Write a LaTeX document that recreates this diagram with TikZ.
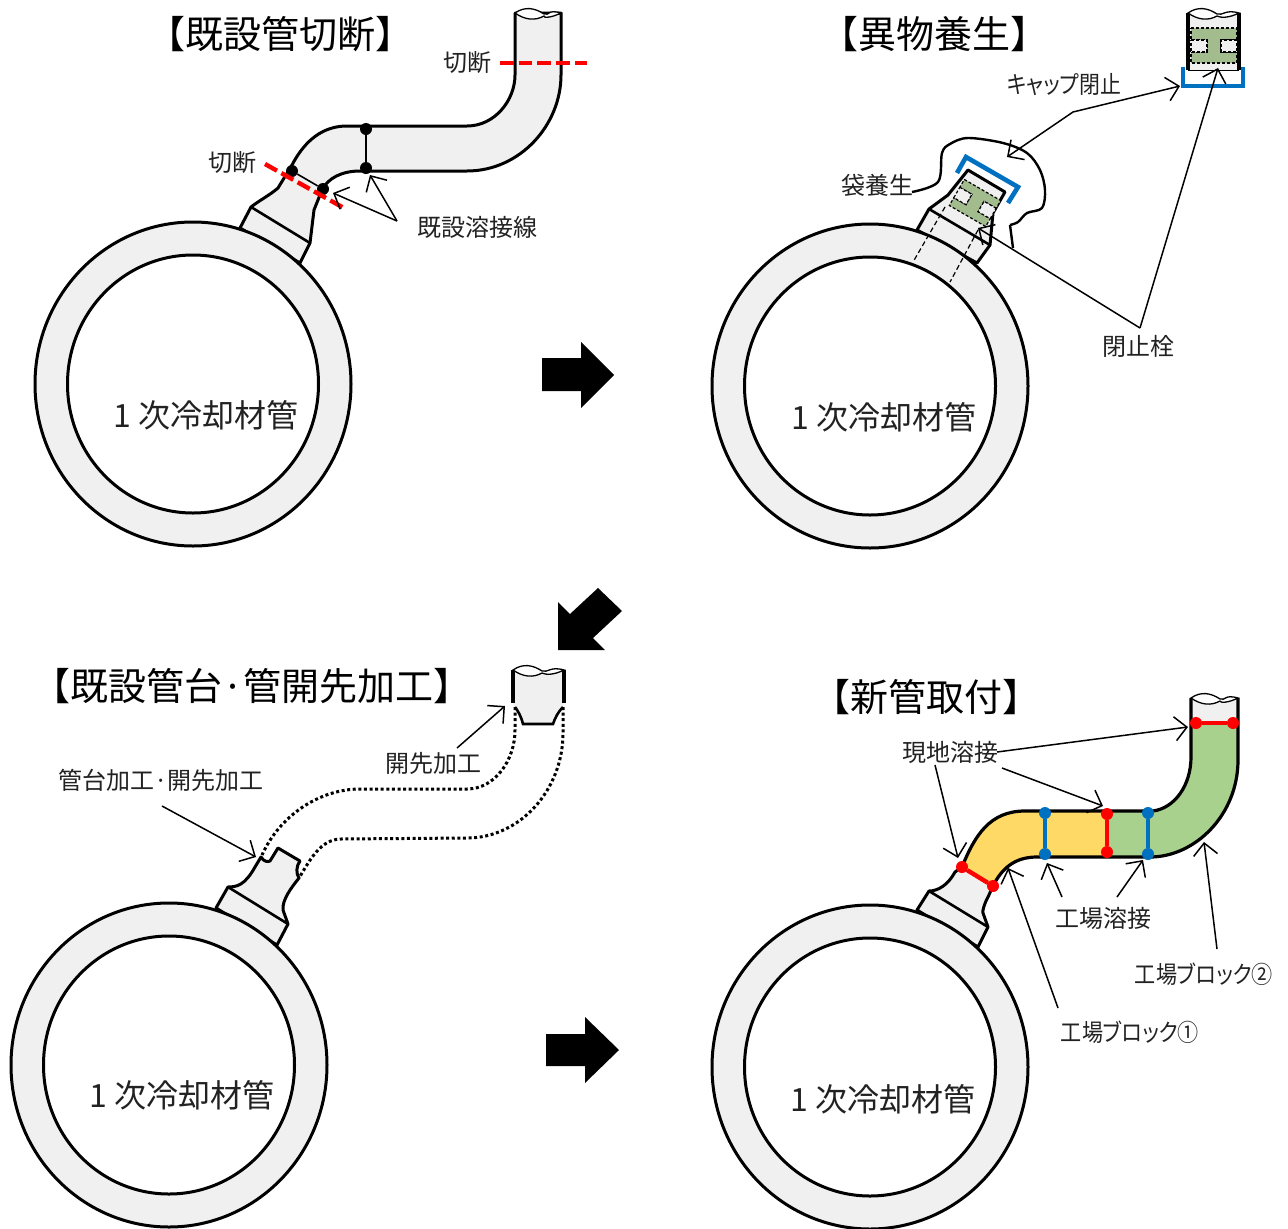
\documentclass[tikz,border=0pt]{standalone}
\usepackage{fontspec}
\setmainfont{Noto Sans CJK JP}
\newfontfamily\propfont[RawFeature={+palt}]{Noto Sans CJK JP}
\usetikzlibrary{arrows.meta}
\definecolor{pipegrey}{HTML}{F0F0F0}
\definecolor{capblue}{HTML}{0070C0}
\definecolor{plugo}{HTML}{FFD966}
\definecolor{plugg}{HTML}{A9D18E}
\definecolor{plugd}{HTML}{A3BC8E}
\definecolor{inkt}{HTML}{222222}
\tikzset{
  titletext/.style={font=\fontsize{38}{40}\selectfont,text=black,inner sep=0pt},
  ringtext/.style={font=\fontsize{32}{34}\selectfont,text=inkt,inner sep=0pt},
  labeltext/.style={font=\fontsize{24}{26}\selectfont,text=inkt,inner sep=0pt},
  pipeedge/.style={draw=black,line width=3pt,fill=pipegrey,line join=round},
  thinedge/.style={draw=black,line width=2.6pt},
  leader/.style={draw=black,line width=1.5pt,-{Straight Barb[length=12pt,width=24pt,line width=1.5pt]}},
  bothleader/.style={draw=black,line width=1.5pt,{Straight Barb[length=12pt,width=24pt,line width=1.5pt]}-{Straight Barb[length=12pt,width=24pt,line width=1.5pt]}},
  cutline/.style={draw=red,line width=4.4pt,dash pattern=on 13.7pt off 5pt},
  dotline/.style={draw=black,line width=3pt,dash pattern=on 3pt off 2.6pt},
  bigarrow/.style={fill=black,draw=none},
  capline/.style={draw=capblue,line width=4.6pt},
  plugshape/.style={draw=black,line width=1.2pt,dash pattern=on 3pt off 2pt,fill=plugd},
  notchshape/.style={draw=black,line width=1.2pt,dash pattern=on 3pt off 2pt,fill=pipegrey},
}
\newcommand{\ringat}[2]{%
  \path[pipeedge,even odd rule] (#1,#2) ellipse (158pt and 162pt) (#1,#2) ellipse (125.5pt and 129pt);}
\newcommand{\wavetop}[3]{% left x, right x, y
  \draw[draw=black,line width=1.3pt,fill=white] (#1,#3)
    .. controls (#1+10,#3-7) and (#1+20,#3-5) .. (#1+29,#3+1)
    .. controls (#1+35,#3+3) and (#2-14,#3-4) .. (#2,#3)
    .. controls (#2-10,#3+5) and (#2-18,#3+5) .. (#1+29,#3+3)
    .. controls (#1+20,#3+8) and (#1+10,#3+7) .. (#1,#3) -- cycle;}
\begin{document}
\begin{tikzpicture}[x=1pt,y=-1pt]
\useasboundingbox[fill=white] (0,0) rectangle (1288,1229);

%%% PANEL 1
\path[pipeedge] (240,228) -- (251,207)
  .. controls (260,200) and (270,195) .. (278,188)
  -- (292,165) .. controls (302,146) and (318,127) .. (345,126)
  -- (467,126) .. controls (495,126) and (515,100) .. (515,75)
  -- (515,13) -- (561,13) -- (561,75)
  .. controls (561,125) and (520,171) .. (467,171)
  -- (360,171) .. controls (342,171) and (328,178) .. (322,190)
  -- (314,210) -- (310,243) -- (300,263) -- cycle;
\draw[thinedge] (251,207) -- (310,243);
\wavetop{515}{561}{13}
\ringat{193}{384}
\node[ringtext] (r1) at (206,415) {1 次冷却材管};
\node[titletext] (t1) at (280,34) {【既設管切断】};
\node[circle,fill=black,inner sep=0pt,minimum size=12pt] (w1a) at (366,129) {};
\node[circle,fill=black,inner sep=0pt,minimum size=12pt] (w1b) at (366,168) {};
\node[circle,fill=black,inner sep=0pt,minimum size=12pt] (w1c) at (292,171) {};
\node[circle,fill=black,inner sep=0pt,minimum size=12pt] (w1d) at (323,189) {};
\draw[black,line width=1.6pt] (w1a) -- (w1b);
\draw[black,line width=1.6pt] (w1c) -- (w1d);
\coordinate (c1a) at (500,63); \coordinate (c1b) at (587,63);
\coordinate (c1c) at (265,164); \coordinate (c1d) at (343,207.5);
\draw[cutline] (c1a) -- (c1b);
\draw[cutline] (c1c) -- (c1d);
\node[labeltext] (l1a) at (467,63) {切断};
\node[labeltext] (l1b) at (232,163) {切断};
\node[labeltext] (l1c) at (477,227) {既設溶接線};
\coordinate (j1) at (397,221);
\draw[leader] (j1) -- (333,193);
\draw[leader] (j1) -- (370,175);

%%% PANEL 2
\path[pipeedge] (917,230) -- (929,209) -- (948,195) -- (968,170) -- (1005,192)
  -- (993,213) -- (990,245) -- (977,263) -- cycle;
\draw[thinedge] (929,209) -- (990,245);
\begin{scope}[shift={(975,203)},rotate=-30]
  \path[plugshape] (-21,-15) -- (21,-15) -- (21,-6) -- (7,-6) -- (7,6) -- (21,6) -- (21,15)
    -- (-21,15) -- (-21,6) -- (-7,6) -- (-7,-6) -- (-21,-6) -- cycle;
  \path[notchshape] (-21,-6) -- (-7,-6) -- (-7,6) -- (-21,6) -- cycle;
  \path[notchshape] (21,-6) -- (7,-6) -- (7,6) -- (21,6) -- cycle;
\end{scope}
\draw[capline] (957,173) -- (966,157) -- (1018,187) -- (1008,203);
\draw[black,line width=2.4pt,line join=round] plot[smooth,tension=0.55] coordinates {
  (912,192) (938,182) (942,153) (950,144) (968,138) (1003,143) (1027,153) (1040,170)
  (1045,190) (1042,208) (1027,213) (1018,222) (1010,225)};
\draw[black,line width=2.4pt] (1010,225) -- (1013,248);
\ringat{870}{386}
\draw[black,line width=1.2pt,dash pattern=on 5pt off 3pt] (945,207) -- (913,262);
\draw[black,line width=1.2pt,dash pattern=on 5pt off 3pt] (978,230) -- (950,282);
\node[ringtext] (r2) at (884,417) {1 次冷却材管};
\node[titletext] (t2) at (934,34) {【異物養生】};
% plugged pipe end
\path[draw=none,fill=pipegrey] (1188,13) rectangle (1239,70);
\path[plugshape] (1191,28) -- (1237,28) -- (1237,40) -- (1221,40) -- (1221,52) -- (1237,52)
  -- (1237,63) -- (1191,63) -- (1191,52) -- (1207,52) -- (1207,40) -- (1191,40) -- cycle;
\path[notchshape] (1191,40) -- (1207,40) -- (1207,52) -- (1191,52) -- cycle;
\path[notchshape] (1237,40) -- (1221,40) -- (1221,52) -- (1237,52) -- cycle;
\draw[black,line width=3.6pt] (1188,13) -- (1188,70);
\draw[black,line width=3.6pt] (1239,13) -- (1239,70);
\draw[black,line width=1pt] (1188,70) -- (1239,70);
\wavetop{1188}{1239}{13}
\draw[capline] (1183,67) -- (1183,86) -- (1243,86) -- (1243,67);
\node[labeltext,font=\fontsize{24}{26}\propfont] (l2a) at (1064,85) {\scalebox{0.87}[1]{キャップ閉止}};
\node[labeltext] (l2b) at (877,185) {袋養生};
\node[labeltext] (l2c) at (1138,346) {閉止栓};
\coordinate (j2a) at (1073,112);
\draw[bothleader] (1007,157) -- (j2a) -- (1180,86);
\coordinate (j2b) at (1140,328);
\draw[leader] (j2b) -- (1218,68);
\draw[leader] (j2b) -- (978,228);

%%% PANEL 3
\path[pipeedge] (216,908) -- (228,887)
  .. controls (237,887) and (245,885) .. (255,867)
  -- (261,857) .. controls (264,862) and (268,862) .. (270,861)
  -- (278,848) -- (300,861) .. controls (296,866) and (296,874) .. (299,878)
  .. controls (291,888) and (282,900) .. (283,910) -- (288,924) -- (277,945) -- cycle;
\draw[thinedge] (228,887) -- (288,924);
\ringat{169}{1065}
\node[ringtext] (r3) at (182,1095) {1 次冷却材管};
\node[titletext] (t3) at (252,686) {【既設管台·管開先加工】};
\path[fill=pipegrey,draw=none] (513,670) -- (564,670) -- (564,703) -- (563,707)
  .. controls (558,712) and (555,718) .. (553,724) -- (523,724)
  .. controls (521,716) and (518,711) .. (515,707) -- (513,703) -- cycle;
\draw[thinedge] (515,707) .. controls (518,711) and (521,716) .. (523,724) -- (553,724)
  .. controls (555,718) and (558,712) .. (563,707);
\draw[black,line width=3.6pt] (513,670) -- (513,703);
\draw[black,line width=3.6pt] (564,670) -- (564,703);
\wavetop{513}{564}{670}
\draw[dotline] (515,707) -- (515,730) .. controls (515,760) and (495,789) .. (467,789)
  -- (360,789) .. controls (320,789) and (280,815) .. (262,855);
\draw[dotline] (563,707) -- (563,733) .. controls (563,790) and (520,838) .. (467,838)
  -- (340,839) .. controls (320,840) and (310,860) .. (299,878);
\node[labeltext] (l3a) at (161,780) {管台加工·開先加工};
\node[labeltext] (l3b) at (433,763) {開先加工};
\coordinate (a3a) at (162,806);
\coordinate (a3b) at (457,748);
\draw[leader] (a3a) -- (256,857);
\draw[leader] (a3b) -- (505,706);

%%% PANEL 4
\path[pipeedge] (917,910) -- (929,891)
  .. controls (938,891) and (948,885) .. (955,872) -- (962,867)
  -- (993,886) -- (988,897) .. controls (984,904) and (982,913) .. (983,913)
  -- (988,927) -- (978,947) -- cycle;
\draw[thinedge] (929,891) -- (988,927);
\path[fill=plugo] (962,867) .. controls (975,835) and (990,811) .. (1025,811)
  -- (1107,811) -- (1107,857) -- (1037,857) .. controls (1015,857) and (1002,868) .. (993,886) -- cycle;
\path[fill=plugg] (1107,811) -- (1153,811) .. controls (1175,808) and (1191,785) .. (1191,757)
  -- (1191,723) -- (1238,723) -- (1238,760) .. controls (1238,815) and (1195,857) .. (1150,857)
  -- (1107,857) -- cycle;
\path[fill=pipegrey] (1191,698) rectangle (1238,723);
\draw[black,line width=3.2pt,line join=round] (962,867) .. controls (975,835) and (990,811) .. (1025,811)
  -- (1153,811) .. controls (1175,808) and (1191,785) .. (1191,757) -- (1191,698);
\draw[black,line width=3.2pt,line join=round] (993,886) .. controls (1002,868) and (1015,857) .. (1037,857)
  -- (1150,857) .. controls (1195,857) and (1238,815) .. (1238,760) -- (1238,698);
\wavetop{1191}{1238}{698}
\ringat{870}{1067}
\node[ringtext] (r4) at (883,1099) {1 次冷却材管};
\node[titletext] (t4) at (926,697) {【新管取付】};
\foreach \nm/\xa/\ya/\xb/\yb/\cc in {
   fa/962/867/993/886/red, fb/1196/723/1233/723/red, fc/1107/814/1107/852/red,
   fd/1045/813/1045/854/capblue, fe/1148/813/1148/854/capblue}{
  \node[circle,fill=\cc,inner sep=0pt,minimum size=12pt] (\nm a) at (\xa,\ya) {};
  \node[circle,fill=\cc,inner sep=0pt,minimum size=12pt] (\nm b) at (\xb,\yb) {};
  \draw[draw=\cc,line width=4.4pt] (\nm a) -- (\nm b);
}
\node[labeltext] (l4a) at (950,752) {現地溶接};
\node[labeltext] (l4b) at (1103,918) {工場溶接};
\node[labeltext,font=\fontsize{24}{26}\propfont] (l4c) at (1204,974) {\scalebox{0.88}[1]{工場ブロック②}};
\node[labeltext,font=\fontsize{24}{26}\propfont] (l4d) at (1130,1032) {\scalebox{0.88}[1]{工場ブロック①}};
\coordinate (a4a) at (997,752);
\coordinate (a4b) at (1002,768);
\coordinate (a4c) at (935,765);
\coordinate (a4d) at (1062,897);
\coordinate (a4e) at (1117,897);
\coordinate (a4f) at (1058,1008);
\coordinate (a4g) at (1217,949);
\draw[leader] (a4a) -- (1188,727);
\draw[leader] (a4b) -- (1103,806);
\draw[leader] (a4c) -- (958,858);
\draw[leader] (a4d) -- (1047,863);
\draw[leader] (a4e) -- (1143,860);
\draw[leader] (a4f) -- (1008,868);
\draw[leader] (a4g) -- (1204,842);

%%% BLOCK ARROWS
\path[bigarrow] (542,358) -- (581,358) -- (581,342) -- (614,375) -- (581,408) -- (581,391) -- (542,391) -- cycle;
\path[bigarrow] (546,1034) -- (585,1034) -- (585,1017) -- (619,1050) -- (585,1083) -- (585,1066) -- (546,1066) -- cycle;
\path[bigarrow] (598,588) -- (622,611) -- (593,638) -- (605,650) -- (558,650) -- (558,602) -- (570,614) -- cycle;
\end{tikzpicture}
\end{document}
